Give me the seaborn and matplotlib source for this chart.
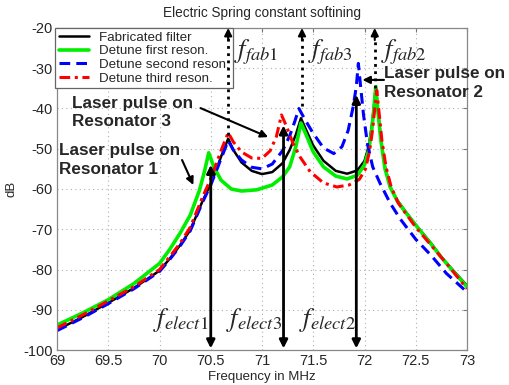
import numpy as np
import pandas as pd
import matplotlib
matplotlib.use("Agg")
import matplotlib.pyplot as plt
import seaborn as sns

# Values (MHz, dB)
freq_fab = [69.0, 69.25, 69.5, 69.75, 70.0, 70.1, 70.2, 70.3, 70.42, 70.5, 70.55, 70.6, 70.67,
            70.72, 70.8, 70.9, 71.0, 71.1, 71.2, 71.27, 71.33, 71.38, 71.43, 71.5, 71.6,
            71.72, 71.83, 71.93, 72.0, 72.04, 72.07, 72.09, 72.11, 72.13, 72.16, 72.2,
            72.25, 72.32, 72.4, 72.5, 72.65, 72.75, 72.85, 73.0]
db_fab = [-95.0, -91.8, -88.3, -84.6, -80.3, -77.3, -74.0, -70.2, -63.0, -58.7, -55.5, -52.0,
          -47.5, -50.3, -53.4, -55.5, -56.3, -55.8, -53.6, -50.3, -46.5, -42.4, -45.3, -49.2,
          -53.0, -55.5, -56.2, -55.4, -53.0, -49.5, -44.5, -40.0, -34.5, -40.0, -47.5,
          -54.5, -59.5, -62.8, -65.6, -68.9, -73.5, -76.9, -79.8, -84.0]

freq_first = [69.0, 69.25, 69.5, 69.75, 70.0, 70.1, 70.2, 70.3, 70.39, 70.44, 70.48, 70.53,
              70.6, 70.7, 70.8, 70.95, 71.1, 71.2, 71.27, 71.33, 71.38, 71.43, 71.5, 71.6,
              71.72, 71.83, 71.93, 72.0, 72.04, 72.07, 72.09, 72.11, 72.13, 72.16, 72.2,
              72.25, 72.32, 72.4, 72.5, 72.65, 72.75, 72.85, 73.0]
db_first = [-93.8, -90.8, -87.5, -83.5, -78.5, -75.0, -71.0, -66.5, -60.3, -55.5, -51.0, -54.5,
            -57.8, -60.0, -60.5, -60.2, -59.0, -57.0, -54.5, -49.5, -43.6, -46.5, -50.8, -54.5,
            -56.8, -57.5, -56.6, -54.0, -50.5, -45.5, -40.5, -34.6, -40.5, -48.0, -55.0,
            -59.5, -63.0, -65.8, -69.0, -73.7, -77.0, -80.0, -84.3]

freq_second = [69.0, 69.25, 69.5, 69.75, 70.0, 70.1, 70.2, 70.3, 70.42, 70.5, 70.55, 70.6,
               70.67, 70.72, 70.8, 70.9, 71.0, 71.1, 71.2, 71.27, 71.32, 71.36, 71.42, 71.5,
               71.6, 71.7, 71.78, 71.84, 71.89, 71.92, 71.94, 71.96, 71.99, 72.03, 72.08,
               72.15, 72.25, 72.35, 72.5, 72.65, 72.8, 73.0]
db_second = [-95.2, -92.0, -88.5, -84.8, -80.5, -77.5, -74.2, -70.4, -63.3, -59.0, -55.8,
             -52.5, -48.0, -50.3, -52.8, -54.6, -55.0, -53.8, -50.5, -46.8, -43.2, -40.0,
             -42.8, -46.2, -49.8, -51.2, -49.5, -45.5, -39.5, -34.5, -28.8, -34.0, -41.5,
             -49.0, -54.5, -58.5, -63.5, -67.5, -72.5, -76.5, -81.0, -85.6]

freq_third = [69.0, 69.25, 69.5, 69.75, 70.0, 70.1, 70.2, 70.3, 70.42, 70.5, 70.55, 70.6,
              70.67, 70.72, 70.8, 70.9, 71.0, 71.08, 71.14, 71.19, 71.24, 71.3, 71.37, 71.47,
              71.6, 71.73, 71.85, 71.95, 72.01, 72.05, 72.08, 72.1, 72.12, 72.14, 72.17,
              72.21, 72.26, 72.33, 72.4, 72.5, 72.65, 72.8, 73.0]
db_third = [-94.5, -91.3, -87.8, -84.3, -80.0, -76.8, -73.5, -69.5, -62.0, -57.5, -54.0,
            -50.5, -46.0, -48.3, -50.8, -52.3, -52.4, -50.5, -47.0, -41.6, -44.5, -48.5,
            -52.0, -55.7, -58.5, -59.5, -59.0, -57.6, -55.0, -50.5, -45.0, -40.0, -35.5,
            -40.5, -48.0, -54.5, -59.5, -63.5, -66.0, -69.5, -74.0, -78.5, -84.8]

series_names = ["Fabricated filter", "Detune first reson.",
                "Detune second reson.", "Detune third reson."]

# marker frequencies and arrow ends
fab_freqs = [70.67, 71.39, 72.10]
fab_peak_db = [-46.5, -39.5, -35.0]
fab_labels = [r"$f_{fab1}$", r"$f_{fab3}$", r"$f_{fab2}$"]
elect_freqs = [70.50, 71.21, 71.92]
elect_top_db = [-54.0, -44.2, -36.6]
elect_labels = [r"$f_{elect1}$", r"$f_{elect3}$", r"$f_{elect2}$"]

parts = []
for name, f, d in zip(series_names,
                      [freq_fab, freq_first, freq_second, freq_third],
                      [db_fab, db_first, db_second, db_third]):
    parts.append(pd.DataFrame({"Frequency": f, "dB": d, "Series": name}))
df = pd.concat(parts, ignore_index=True)

sns.set_style("white")
plt.rcParams["font.family"] = ["Liberation Sans", "DejaVu Sans"]
plt.rcParams["mathtext.fontset"] = "stix"
plt.rcParams["axes.unicode_minus"] = False

fig = plt.figure(figsize=(5.09, 3.85), dpi=100)
ax = fig.add_axes([0.112, 0.0909, 0.8055, 0.8364])

styles = {
    "Fabricated filter": dict(color="black", lw=1.8, ls="-"),
    "Detune first reson.": dict(color="#00ee00", lw=2.6, ls="-"),
    "Detune second reson.": dict(color="#0000ff", lw=2.2, ls=(0, (3.5, 2))),
    "Detune third reson.": dict(color="#ff0000", lw=2.2, ls=(0, (3.5, 1.5, 1, 1.5))),
}
for name in series_names:
    sub = df[df["Series"] == name]
    st = styles[name]
    sns.lineplot(data=sub, x="Frequency", y="dB", ax=ax, color=st["color"],
                 linewidth=st["lw"], linestyle=st["ls"], label=name,
                 estimator=None, sort=False)

ax.set_xlim(69, 73)
ax.set_ylim(-100, -20)
ax.set_xticks(np.arange(69, 73.01, 0.5))
ax.set_xticklabels(["69", "69.5", "70", "70.5", "71", "71.5", "72", "72.5", "73"])
ax.set_yticks(np.arange(-100, -19, 10))
ax.tick_params(direction="in", length=3, labelsize=10.5, top=True, right=True,
               color="#777777", pad=3)
for sp in ax.spines.values():
    sp.set_color("#888888")
    sp.set_linewidth(0.9)
ax.grid(True, linestyle=(0, (1, 3)), color="#b0b0b0", linewidth=0.8)

ax.set_title("Electric Spring constant softining", fontsize=9.8, pad=8)
ax.set_xlabel("Frequency in MHz", fontsize=9.5, labelpad=2)
ax.set_ylabel("dB", fontsize=9.5, labelpad=4)

leg = ax.legend(loc="upper left", bbox_to_anchor=(-0.004, 1.0), borderaxespad=0,
                fontsize=9.6, frameon=True, fancybox=False, framealpha=1,
                edgecolor="#666666", handlelength=2.3, labelspacing=0.1,
                borderpad=0.25, handletextpad=0.7)
leg.get_frame().set_linewidth(0.9)
leg.set_zorder(4)

# dotted arrows: fabricated resonance frequencies (drawn over the legend)
for x, y0, lab in zip(fab_freqs, fab_peak_db, fab_labels):
    ax.plot([x, x], [y0, -22], color="black", lw=2, ls=(0, (1, 1.6)), zorder=6)
    ax.annotate("", xy=(x, -20), xytext=(x, -23), annotation_clip=False, zorder=6,
                arrowprops=dict(arrowstyle="-|>", color="black", lw=1.5,
                                mutation_scale=11, shrinkA=0, shrinkB=0))
    ax.text(x + 0.06, -26.0, lab, fontsize=19, ha="left", va="center", zorder=6)

# solid arrows: electrical excitation frequencies
for x, yt, lab in zip(elect_freqs, elect_top_db, elect_labels):
    ax.annotate("", xy=(x, yt), xytext=(x, -99.6), annotation_clip=False,
                arrowprops=dict(arrowstyle="<|-|>", color="black", lw=2,
                                mutation_scale=12, shrinkA=0, shrinkB=0))
    ax.text(x - 0.56, -92.5, lab, fontsize=19, ha="left", va="center")

bold = dict(fontsize=12.3, fontweight="bold", ha="left", va="center", linespacing=1.3)
ax.text(69.15, -41.0, "Laser pulse on\nResonator 3", **bold)
ax.annotate("", xy=(71.06, -47.1), xytext=(70.40, -39.9),
            arrowprops=dict(arrowstyle="-|>", color="black", lw=1.5,
                            mutation_scale=11, shrinkA=0, shrinkB=0))
ax.text(69.02, -52.8, "Laser pulse on\nResonator 1", **bold)
ax.annotate("", xy=(70.33, -59.0), xytext=(70.22, -52.8),
            arrowprops=dict(arrowstyle="-|>", color="black", lw=1.5,
                            mutation_scale=11, shrinkA=0, shrinkB=0))
ax.text(72.19, -33.6, "Laser pulse on\nResonator 2", clip_on=False, **bold)
ax.annotate("", xy=(71.98, -32.9), xytext=(72.19, -32.9),
            arrowprops=dict(arrowstyle="-|>", color="black", lw=1.5,
                            mutation_scale=11, shrinkA=0, shrinkB=0))

fig.savefig("out.png", dpi=100)
